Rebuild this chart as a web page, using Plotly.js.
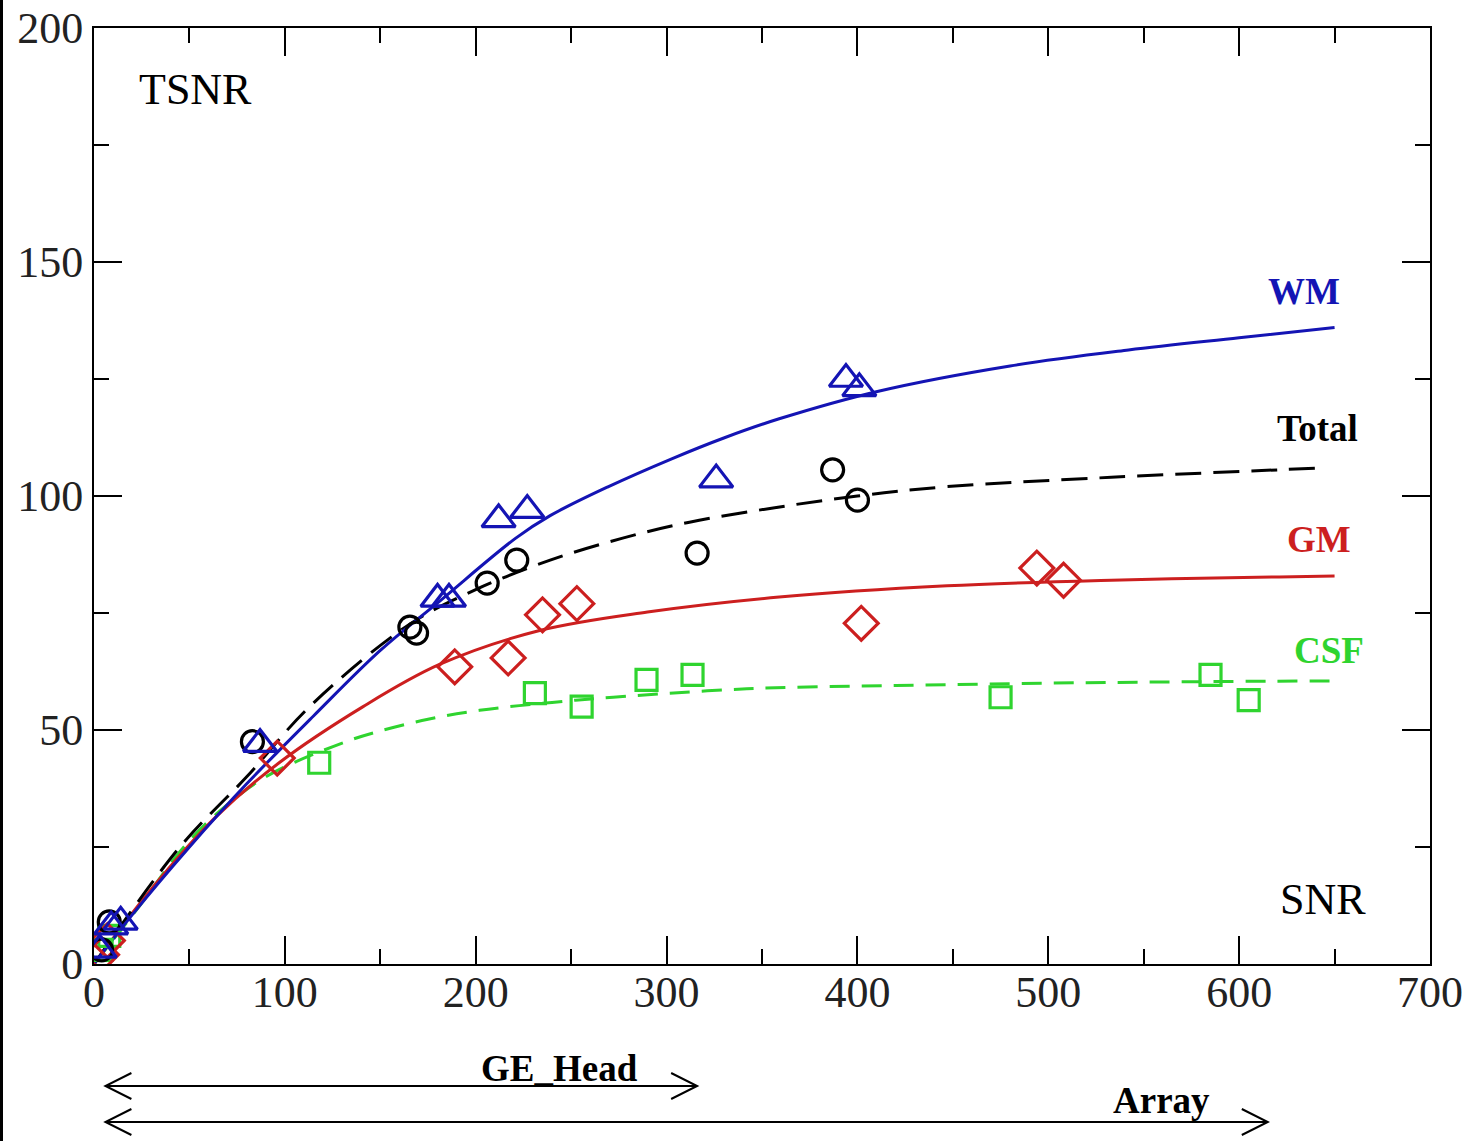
<!DOCTYPE html>
<html>
<head>
<meta charset="utf-8">
<script src="https://cdn.plot.ly/plotly-3.0.1.min.js"></script>
<style>html,body{margin:0;padding:0;background:#fff;}#chart{width:1474px;height:1141px;}</style>
</head>
<body>
<div id="chart"></div>
<script>
// ---- Data ----
const wmFitX    = [0, 20, 50, 80, 115, 150, 181, 221, 239, 269, 303, 330, 359, 411, 480, 542, 600, 650];
const wmFitY    = [0, 10.5, 25, 38.5, 53, 67, 77.5, 91, 95.8, 101.9, 108, 112.4, 116.5, 122.4, 127.8, 131.2, 133.8, 136];
const totalFitX = [0, 45, 80, 113, 165, 200, 239, 277, 312, 355, 400, 447, 533, 621, 643];
const totalFitY = [0, 25, 40, 55, 72.5, 80, 86.3, 91, 94.4, 97.4, 100, 102, 104, 105.6, 106];
const gmFitX    = [0, 30, 64, 97, 141, 181, 233, 290, 359, 447, 533, 621, 650];
const gmFitY    = [0, 16, 31.5, 43, 55, 64, 71.2, 75.2, 78.4, 80.8, 82, 82.7, 82.9];
const csfFitX   = [0, 25, 45, 64, 90, 132, 150, 175, 202, 240, 272, 342, 420, 499, 570, 650];
const csfFitY   = [0, 13, 24, 32, 40, 47.5, 49.8, 52.3, 54.2, 55.9, 57, 58.8, 59.5, 60, 60.3, 60.5];

const wmPtsX    = [3, 9, 14, 87, 180, 186, 212, 227, 326, 394, 401];
const wmPtsY    = [3, 8, 9, 47, 78, 78, 95, 97, 103.5, 125, 123];
const totalPtsX = [4, 8, 83, 165.5, 169, 206, 221.5, 316, 387, 400];
const totalPtsY = [3, 9, 47.5, 72, 70.7, 81.4, 86.3, 87.8, 105.6, 99.1];
const gmPtsX    = [4, 7, 96, 189, 217, 235, 253, 402, 494, 508];
const gmPtsY    = [2, 5, 44, 63.5, 65.4, 74.6, 77, 72.8, 84.6, 82];
const csfPtsX   = [4, 8, 118, 231, 255.5, 289.5, 313.6, 475, 585, 605];
const csfPtsY   = [3, 6, 43, 57.9, 55, 60.7, 61.8, 57, 61.8, 56.4];

const xTickVals = [0, 100, 200, 300, 400, 500, 600, 700];
const yTickVals = [0, 50, 100, 150, 200];

const seriesNames  = ['WM', 'Total', 'GM', 'CSF'];
const seriesColors = ['#1414b4', '#000000', '#cc1f1f', '#2fd42f'];

// coil ranges (SNR) shown as arrows under the axis
const coilNames  = ['GE_Head', 'Array'];
const coilStart  = [6, 6];
const coilEnd    = [316, 615];

// ---- Build ----
const serif = 'Liberation Serif, Times New Roman, serif';
const lineW = 3;

function fit(x, y, color, dash) {
  return {x: x, y: y, mode: 'lines', type: 'scatter', line: {color: color, width: lineW, dash: dash, shape: 'spline', smoothing: 1}, hoverinfo: 'skip', showlegend: false};
}
function pts(x, y, color, symbol, size) {
  return {x: x, y: y, mode: 'markers', type: 'scatter', marker: {symbol: symbol, size: size, color: color, line: {color: color, width: 3.2}}, showlegend: false};
}

const traces = [
  fit(csfFitX, csfFitY, seriesColors[3], '20px,12px'),
  fit(gmFitX, gmFitY, seriesColors[2], 'solid'),
  fit(totalFitX, totalFitY, seriesColors[1], '26px,12px'),
  fit(wmFitX, wmFitY, seriesColors[0], 'solid'),
  pts(csfPtsX, csfPtsY, seriesColors[3], 'square-open', 21),
  pts(gmPtsX, gmPtsY, seriesColors[2], 'diamond-open', 26),
  pts(totalPtsX, totalPtsY, seriesColors[1], 'circle-open', 22),
  pts(wmPtsX, wmPtsY, seriesColors[0], 'triangle-up-open', 29)
];

// plot-area geometry helpers for the arrow decorations below the axis
const plotH = 1141 - 28 - 177;
const pxToPaperY = py => (964 - py) / plotH;
const armDx = 13.6;           // in data units (x)
const armDy = 13 / plotH;     // in paper units (y)
const arrowY = [pxToPaperY(1086), pxToPaperY(1122)];
const labelY = [pxToPaperY(1068), pxToPaperY(1100)];
const labelX = [244, 559.5];

const shapes = [];
const annotations = [];
coilNames.forEach((name, i) => {
  const y = arrowY[i], x0 = coilStart[i], x1 = coilEnd[i];
  const common = {type: 'path', xref: 'x', yref: 'paper', line: {color: '#000', width: 2}};
  shapes.push(Object.assign({}, common, {path: `M${x0},${y} L${x1},${y}`}));
  shapes.push(Object.assign({}, common, {path: `M${x0 + armDx},${y + armDy} L${x0},${y} L${x0 + armDx},${y - armDy}`}));
  shapes.push(Object.assign({}, common, {path: `M${x1 - armDx},${y + armDy} L${x1},${y} L${x1 - armDx},${y - armDy}`}));
  annotations.push({text: '<b>' + name + '</b>', x: labelX[i], y: labelY[i], xref: 'x', yref: 'paper', xanchor: 'center', yanchor: 'middle', showarrow: false, font: {family: serif, size: 37, color: '#000'}});
});

// black strip at the left edge of the picture
shapes.push({type: 'rect', xref: 'paper', yref: 'paper', x0: -94/1336, x1: -91/1336, y0: -177/plotH, y1: 1 + 28/plotH, fillcolor: '#000', line: {width: 0}});

// in-plot labels
annotations.push({text: 'TSNR', x: 53, y: 186.8, xref: 'x', yref: 'y', xanchor: 'center', yanchor: 'middle', showarrow: false, font: {family: serif, size: 44, color: '#000'}});
annotations.push({text: 'SNR', x: 643.8, y: 13.7, xref: 'x', yref: 'y', xanchor: 'center', yanchor: 'middle', showarrow: false, font: {family: serif, size: 44, color: '#000'}});
const labelPos = [[634, 143.6], [641, 114.5], [642, 90.6], [647, 66.9]];
seriesNames.forEach((n, i) => {
  annotations.push({text: '<b>' + n + '</b>', x: labelPos[i][0], y: labelPos[i][1], xref: 'x', yref: 'y', xanchor: 'center', yanchor: 'middle', showarrow: false, font: {family: serif, size: 37, color: seriesColors[i]}});
});

const axisCommon = {
  showgrid: false, zeroline: false, showline: true, linecolor: '#000', linewidth: 2,
  mirror: 'ticks', ticks: 'inside', ticklen: 28, tickwidth: 2, tickcolor: '#000',
  tickfont: {family: serif, size: 44, color: '#222'},
  minor: {ticks: 'inside', ticklen: 15, tickwidth: 2, tickcolor: '#000', showgrid: false}
};

const layout = {
  width: 1474, height: 1141,
  margin: {l: 94, r: 44, t: 28, b: 177},
  paper_bgcolor: '#fff', plot_bgcolor: '#fff',
  showlegend: false,
  xaxis: Object.assign({}, axisCommon, {range: [0, 700], tickmode: 'array', tickvals: xTickVals, ticktext: xTickVals.map(String), minor: Object.assign({}, axisCommon.minor, {dtick: 50}), ticklabelstandoff: -12}),
  yaxis: Object.assign({}, axisCommon, {range: [0, 200], tickmode: 'array', tickvals: yTickVals, ticktext: yTickVals.map(String), minor: Object.assign({}, axisCommon.minor, {dtick: 25}), ticklabelstandoff: 0}),
  shapes: shapes,
  annotations: annotations
};

Plotly.newPlot('chart', traces, layout, {displayModeBar: false, staticPlot: true});
</script>
</body>
</html>
